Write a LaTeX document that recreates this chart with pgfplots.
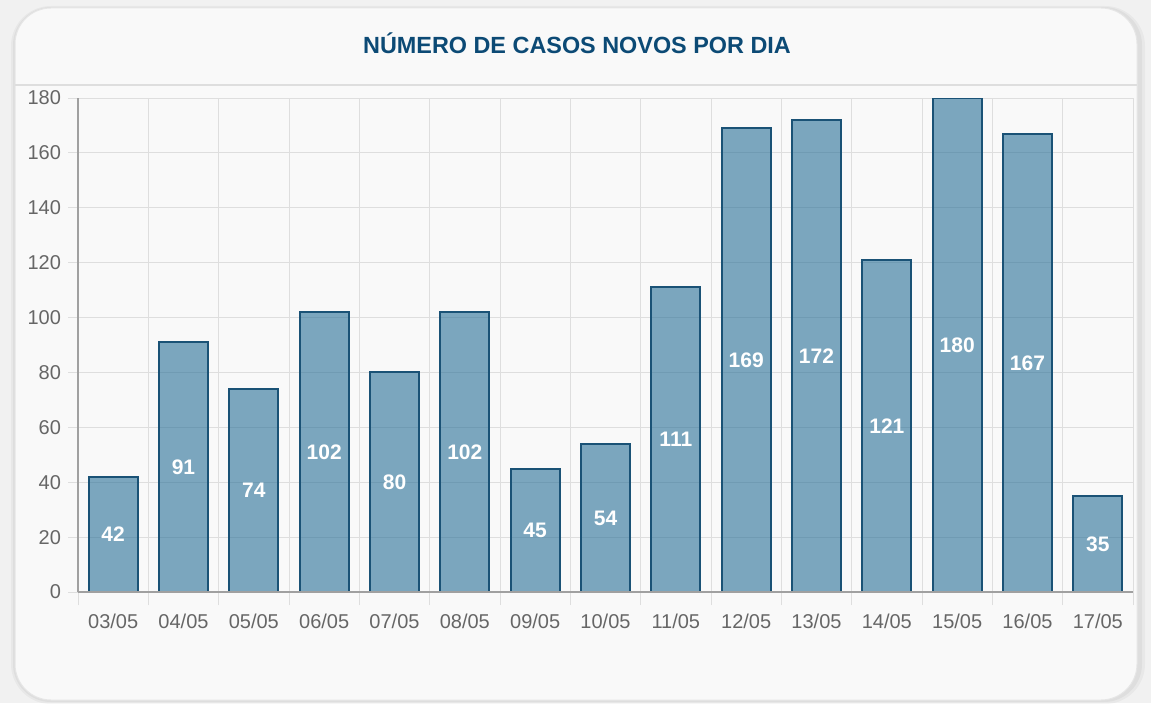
\documentclass[border=0pt]{standalone}
\usepackage{fontspec}
\setmainfont{Liberation Sans}
\usepackage{pgfplots}
\pgfplotsset{compat=1.18}

\definecolor{pagebg}{RGB}{241,241,241}
\definecolor{cardbg}{RGB}{249,249,249}
\definecolor{cardline}{RGB}{230,230,230}
\definecolor{titleblue}{RGB}{12,74,117}
\definecolor{barfill}{RGB}{39,111,151}
\definecolor{barline}{RGB}{26,82,118}
\definecolor{gridgray}{RGB}{222,222,222}
\definecolor{axisgray}{RGB}{160,160,160}
\definecolor{ticktext}{RGB}{102,102,102}

\begin{document}
\begin{tikzpicture}[x=0.5pt,y=0.5pt]
% page and card
\fill[pagebg] (0,0) rectangle (1151,703);
\fill[black,opacity=0.035,rounded corners=20] (11,-1) rectangle (1145,697);
\fill[black,opacity=0.04,rounded corners=19] (13,1) rectangle (1142,696);
\filldraw[fill=cardbg,draw=cardline,line width=0.5pt,rounded corners=18] (15,3) rectangle (1137,695);
\draw[gridgray,line width=1pt] (15,618) -- (1137,618);
\node[font=\bfseries\fontsize{11.7}{14}\selectfont,text=titleblue] at (577,660) {NÚMERO DE CASOS NOVOS POR DIA};

\begin{axis}[
  at={(39pt,55.5pt)}, anchor=south west,
  scale only axis, width=527.5pt, height=247pt,
  xmin=0, xmax=15, ymin=0, ymax=180,
  axis x line*=bottom, axis y line*=left,
  axis line style={axisgray, line width=0.6pt},
  xtick={0.5,1.5,...,14.5},
  xticklabels={03/05,04/05,05/05,06/05,07/05,08/05,09/05,10/05,11/05,12/05,13/05,14/05,15/05,16/05,17/05},
  minor xtick={0,1,...,15},
  ytick={0,20,...,180},
  ymajorgrids, xminorgrids,
  grid style={gridgray, line width=0.5pt},
  minor grid style={gridgray, line width=0.5pt},
  major x tick style={draw=none},
  tick align=outside,
  major tick length=5pt,
  minor tick length=6.5pt,
  tick style={gridgray, line width=0.5pt},
  ticklabel style={text=ticktext, font=\fontsize{10}{12}\selectfont},
  xticklabel style={yshift=-2.5pt},
  /pgf/number format/assume math mode=true,
  ybar, bar width=0.70,
]
\addplot[
  fill=barfill, fill opacity=0.6, draw=barline, line width=1pt,
  nodes near coords,
  visualization depends on={rawy \as \rawy},
  every node near coord/.append style={
    anchor=center, yshift=-\rawy*0.68611pt,
    text=white, text opacity=1,
    font=\bfseries\fontsize{10.5}{12}\selectfont},
] coordinates {
  (0.5,42) (1.5,91) (2.5,74) (3.5,102) (4.5,80) (5.5,102) (6.5,45) (7.5,54)
  (8.5,111) (9.5,169) (10.5,172) (11.5,121) (12.5,180) (13.5,167) (14.5,35)
};
\draw[axisgray, line width=0.6pt] (axis cs:0,0) -- (axis cs:15,0);
\end{axis}
\pgfresetboundingbox
\useasboundingbox (0,0) rectangle (1151,703);
\end{tikzpicture}
\end{document}
